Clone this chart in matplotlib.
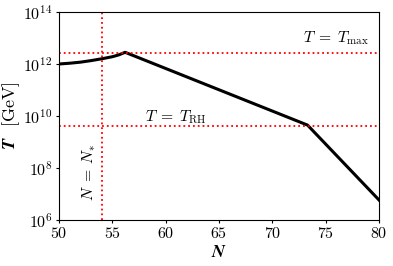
import numpy as np
import matplotlib.pyplot as plt

plt.rcParams['mathtext.fontset'] = 'cm'
plt.rcParams['font.family'] = 'serif'
plt.rcParams['font.serif'] = ['cmr10']
plt.rcParams['axes.formatter.use_mathtext'] = True
plt.rcParams['font.size'] = 11.3

# curve: N vs log10(T/GeV)
N_vals = [50, 51, 52, 53, 54, 55, 55.6, 56.2, 73.3, 80]
logT_vals = [12.0, 12.03, 12.07, 12.13, 12.2, 12.28, 12.35, 12.45, 9.65, 6.77]

N_star = 54.0
T_max = 2.6e12
T_RH = 4.0e9

fig = plt.figure(figsize=(3.93, 2.66), dpi=100)
ax = fig.add_axes([59 / 393, 46 / 266, 320 / 393, 208 / 266])

ax.plot(N_vals, 10 ** np.array(logT_vals), color='black', lw=2.2)
ax.axhline(T_max, color='red', ls=':', lw=1.3)
ax.axhline(T_RH, color='red', ls=':', lw=1.3)
ax.axvline(N_star, color='red', ls=':', lw=1.3)

ax.set_yscale('log')
ax.set_xlim(50, 80)
ax.set_ylim(1e6, 1e14)
ax.set_yticks([1e6, 1e8, 1e10, 1e12, 1e14])
ax.minorticks_off()
ax.set_xticks([50, 55, 60, 65, 70, 75, 80])
ax.tick_params(length=2.5, width=0.8, pad=2, labelsize=11.5)

ax.text(0.97, 0.83, r'$T\;=\;T_{\rm max}$', transform=ax.transAxes, ha='right', va='bottom')
ax.text(0.365, 0.45, r'$T\;=\;T_{\rm RH}$', transform=ax.transAxes, ha='center', va='bottom')
ax.text(52.8, 6.5e7, r'$N\;=\;N_{*}$', rotation=90, ha='center', va='center')

ax.set_xlabel(r'$\mathbfit{N}$', labelpad=2, fontsize=13)
ax.set_ylabel(r'$\mathbfit{T}$  [GeV]', fontsize=13)
ax.yaxis.set_label_coords(-0.115, 0.5)

fig.savefig('out.png', dpi=100)
